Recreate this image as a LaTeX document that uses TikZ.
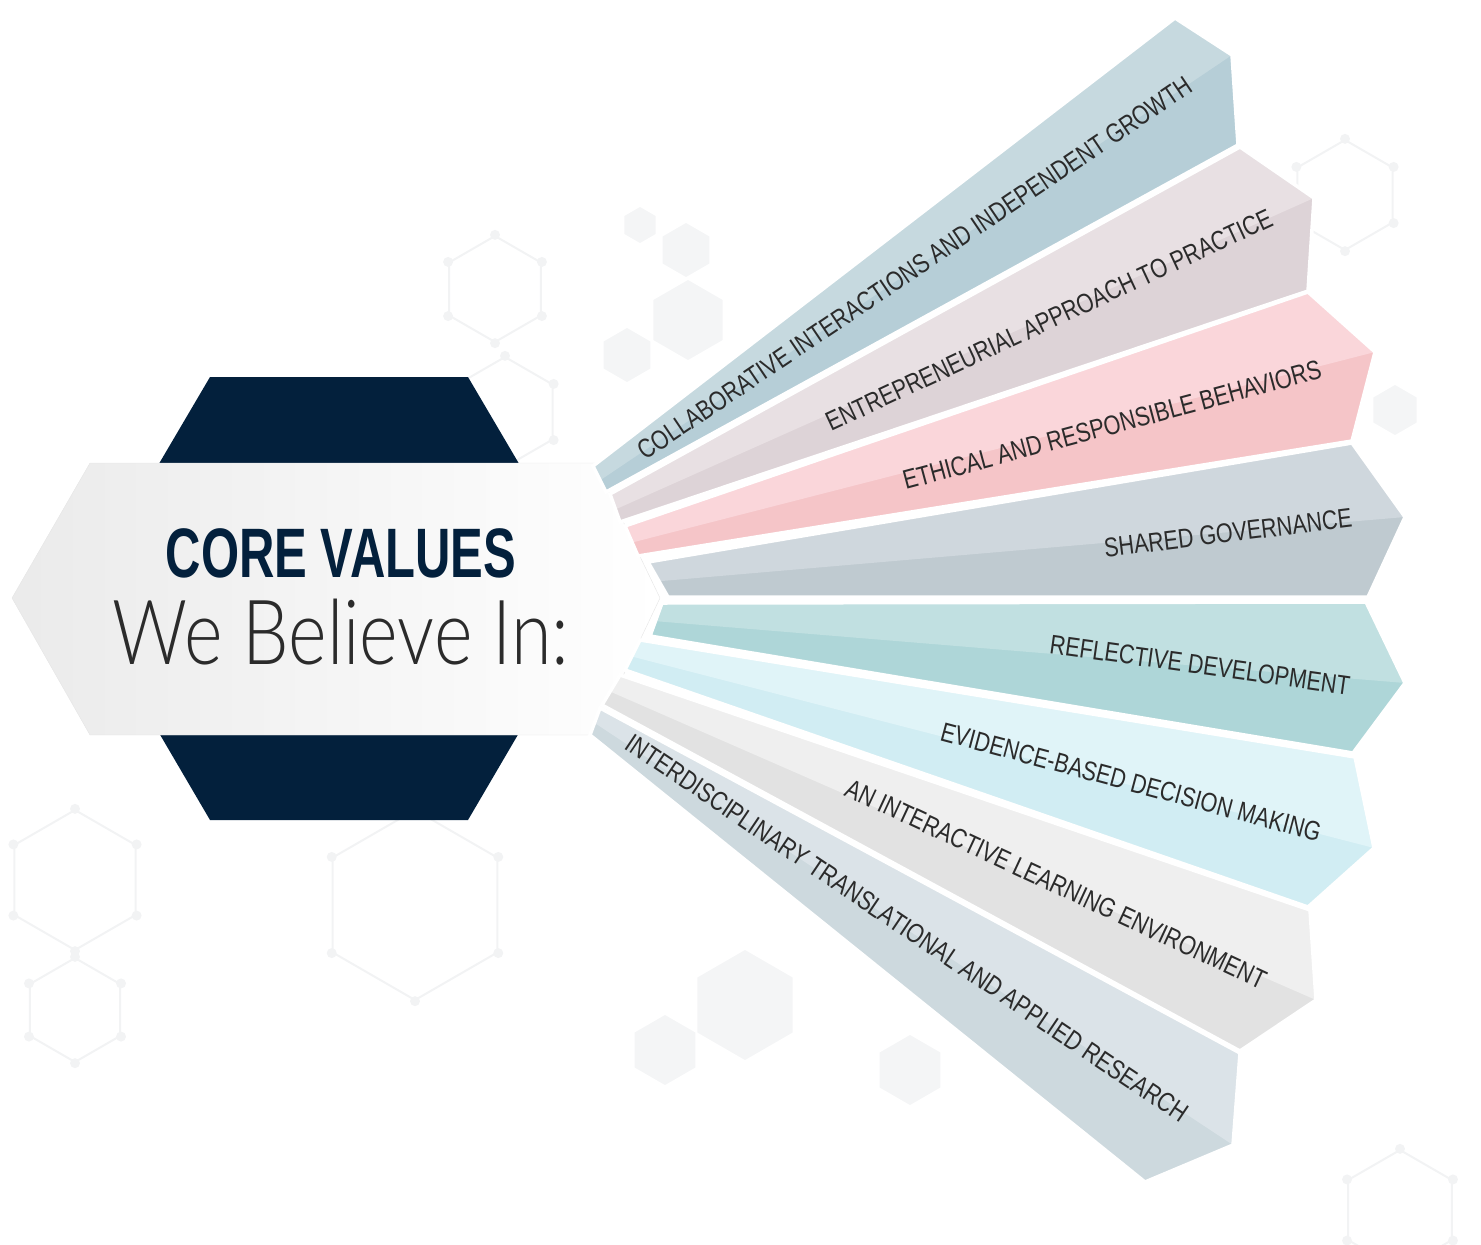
\documentclass[tikz,border=0pt]{standalone}
\usepackage{fontspec}
\usepackage{tikz}
\usetikzlibrary{shapes.geometric, calc}

\setmainfont{Liberation Sans}
\newfontfamily\headfont{Liberation Sans}[FakeStretch=0.70]
\IfFontExistsTF{Lato Light}
  {\newfontfamily\thinfont{Lato Light}[FakeStretch=0.82]}
  {\newfontfamily\thinfont{Liberation Sans}[FakeStretch=0.75]}
\newfontfamily\valfont{Liberation Sans}[FakeStretch=0.80]

\definecolor{navy}{HTML}{03203C}
\definecolor{textgray}{HTML}{2B2B2B}
\definecolor{hexline}{HTML}{F2F3F4}
\definecolor{hexfill}{HTML}{F4F5F6}
\definecolor{r1l}{HTML}{C6D9DF}\definecolor{r1d}{HTML}{B6CED7}
\definecolor{r2l}{HTML}{E8E0E3}\definecolor{r2d}{HTML}{DDD3D7}
\definecolor{r3l}{HTML}{FAD6DA}\definecolor{r3d}{HTML}{F5C5C8}
\definecolor{r4l}{HTML}{CFD7DD}\definecolor{r4d}{HTML}{BFCAD0}
\definecolor{r5l}{HTML}{C1E0E1}\definecolor{r5d}{HTML}{AED6D8}
\definecolor{r6l}{HTML}{E0F4F8}\definecolor{r6d}{HTML}{D1EDF3}
\definecolor{r7l}{HTML}{EFEFEF}\definecolor{r7d}{HTML}{E2E2E2}
\definecolor{r8l}{HTML}{DBE3E8}\definecolor{r8d}{HTML}{CDD9DE}

\tikzset{
  valtext/.style={font=\valfont\fontsize{27}{30}\selectfont, text=textgray, inner sep=0pt},
  rayedge/.style={draw=white, line width=3.5, line join=miter},
  bghex/.style={regular polygon, regular polygon sides=6, shape border rotate=30,
    draw=hexline, line width=2, inner sep=0pt},
  bgcell/.style={regular polygon, regular polygon sides=6, shape border rotate=30,
    fill=hexfill, inner sep=0pt},
}

% one ray: top-left, top-right, tip, bottom-right, bottom-left, light, dark
\newcommand{\valueray}[7]{%
  \fill[#7] #1 -- #2 -- #3 -- #4 -- #5 -- cycle;
  \fill[#6] #1 -- #2 -- #3 -- ($#1!0.55!#5$) -- cycle;
  \draw[rayedge] #1 -- #2 -- #3 -- #4 -- #5 -- cycle;}

\begin{document}
\begin{tikzpicture}[x=1pt, y=-1pt]
    \useasboundingbox (0,0) rectangle (1481,1245);

    % faint background cells
    \node[bghex, minimum size=106] (h1) at (495,289) {};
    \node[bghex, minimum size=110] (h2) at (505,412) {};
    \node[bghex, minimum size=140] (h3) at (75,880) {};
    \node[bghex, minimum size=104] (h4) at (75,1010) {};
    \node[bghex, minimum size=190] (h5) at (415,905) {};
    \node[bghex, minimum size=110] (h6) at (1345,195) {};
    \node[bghex, minimum size=120] (h7) at (1400,1210) {};
    \foreach \h in {h1,h2,h3,h4,h5,h6,h7}
        \foreach \k in {1,...,6}
            \fill[hexline] (\h.corner \k) circle (5);
    \node[bgcell, minimum size=36] (c1) at (640,225) {};
    \node[bgcell, minimum size=54] (c2) at (686,250) {};
    \node[bgcell, minimum size=80] (c3) at (688,320) {};
    \node[bgcell, minimum size=54] (c4) at (627,355) {};
    \node[bgcell, minimum size=110] (c5) at (745,1005) {};
    \node[bgcell, minimum size=70] (c6) at (665,1050) {};
    \node[bgcell, minimum size=70] (c7) at (910,1070) {};
    \node[bgcell, minimum size=50] (c8) at (1395,410) {};

    % centre badge
    \fill[navy] (210,377) -- (468,377) -- (598,598) -- (468,820) -- (210,820) -- (80,598) -- cycle;
    \shade[left color=black!8, middle color=black!7, right color=white, draw=black!10]
        (90,463) -- (595,463) -- (660,598) -- (595,735) -- (90,735) -- (12,598) -- cycle;
    \node[font=\headfont\bfseries\fontsize{70}{72}\selectfont, text=navy, inner sep=0pt] (core) at (341,553) {CORE VALUES};
    \node[font=\thinfont\fontsize{90}{92}\selectfont, text=textgray, inner sep=0pt] (believe) at (341,632) {We Believe In:};

    % rays
    \valueray{(593,466)}{(1175,18)}{(1232,55)}{(1238,145)}{(606,492)}{r1l}{r1d}
    \valueray{(610,494)}{(1240,147)}{(1314,198)}{(1308,291)}{(620,522)}{r2l}{r2d}
    \valueray{(625,526)}{(1308,292)}{(1375,352)}{(1352,441)}{(638,556)}{r3l}{r3d}
    \valueray{(648,562)}{(1352,443)}{(1405,517)}{(1368,597)}{(668,597)}{r4l}{r4d}
    \valueray{(662,603)}{(1366,602)}{(1405,683)}{(1353,753)}{(650,636)}{r5l}{r5d}
    \valueray{(640,640)}{(1355,757)}{(1374,848)}{(1308,907)}{(625,670)}{r6l}{r6d}
    \valueray{(620,675)}{(1310,910)}{(1316,1000)}{(1240,1051)}{(602,705)}{r7l}{r7d}
    \valueray{(600,708)}{(1240,1053)}{(1233,1145)}{(1145,1182)}{(590,735)}{r8l}{r8d}

    \node[valtext, rotate=34] (collab) at (915,268) {COLLABORATIVE INTERACTIONS AND INDEPENDENT GROWTH};
    \node[valtext, rotate=25] (entre) at (1049,320) {ENTREPRENEURIAL APPROACH TO PRACTICE};
    \node[valtext, rotate=15] (ethic) at (1112,425) {ETHICAL AND RESPONSIBLE BEHAVIORS};
    \node[valtext, rotate=7] (shared) at (1228,533) {SHARED GOVERNANCE};
    \node[valtext, rotate=-8] (reflect) at (1200,665) {REFLECTIVE DEVELOPMENT};
    \node[valtext, rotate=-15] (evid) at (1131,782) {EVIDENCE-BASED DECISION MAKING};
    \node[valtext, rotate=-25] (interact) at (1056,884) {AN INTERACTIVE LEARNING ENVIRONMENT};
    \node[valtext, rotate=-34] (interdis) at (907,928) {INTERDISCIPLINARY TRANSLATIONAL AND APPLIED RESEARCH};
\end{tikzpicture}
\end{document}
